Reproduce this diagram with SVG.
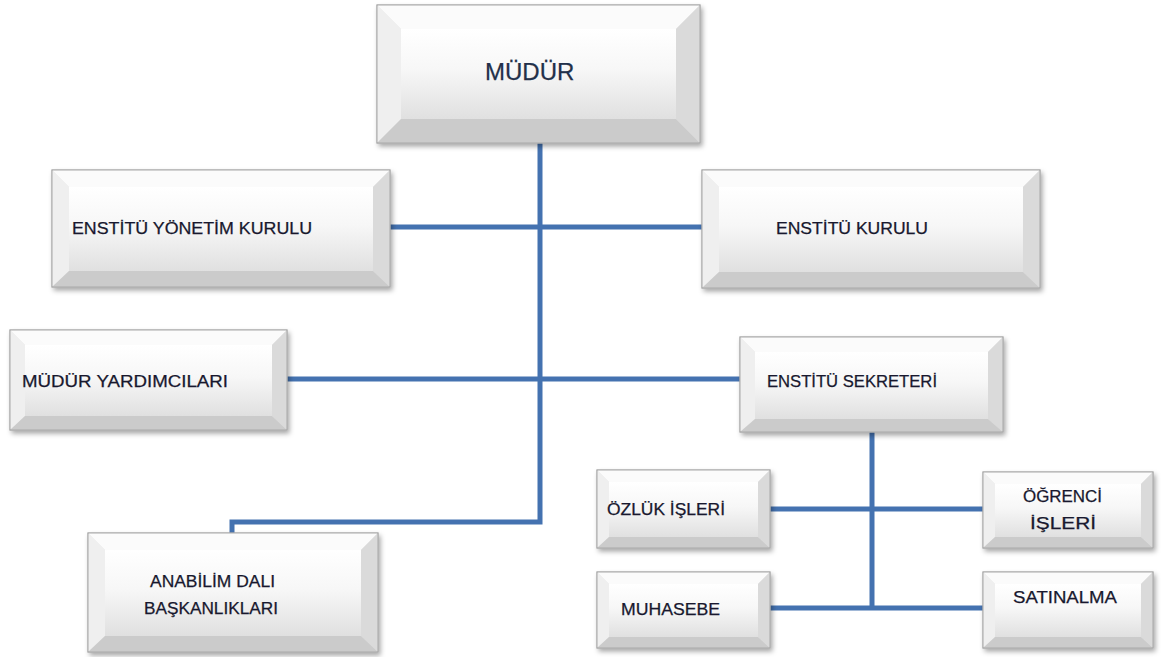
<svg xmlns="http://www.w3.org/2000/svg" width="1168" height="657" viewBox="0 0 1168 657">
<style>
.outer{fill:#e6e6e6;stroke:#a9a9a9;stroke-width:1}
.bt{fill:#fbfbfb}
.bl{fill:#efefef}
.br{fill:#dadada}
.bb{fill:#cbcbcb}
.face{fill:url(#faceG)}
.edge{fill:none;stroke:#a9a9a9;stroke-width:1}
.lbl{font-family:"Liberation Sans",Arial,sans-serif;font-size:16px;fill:#18182e;stroke:#18182e;stroke-width:0.25}
.big{font-size:24px;fill:#22304a;stroke:#22304a}
.conn{fill:none;stroke:#4472b0;stroke-width:5;stroke-linejoin:miter}
</style>
<defs>
<linearGradient id="faceG" x1="0" y1="0" x2="0" y2="1">
<stop offset="0" stop-color="#ffffff"/>
<stop offset="0.45" stop-color="#f7f7f7"/>
<stop offset="1" stop-color="#e0e0e0"/>
</linearGradient>
<filter id="sh" x="-10%" y="-10%" width="125%" height="135%">
<feDropShadow dx="2" dy="3" stdDeviation="2.5" flood-color="#000" flood-opacity="0.35"/>
</filter>
</defs>
<rect width="1168" height="657" fill="#ffffff"/>

<g id="connectors">
<path class="conn" d="M540,143 V522 H232 V533"/>
<path class="conn" d="M390,227 H702"/>
<path class="conn" d="M287,379 H740"/>
<path class="conn" d="M872,432 V608"/>
<path class="conn" d="M770,509 H983"/>
<path class="conn" d="M770,608 H983"/>
</g>

<g id="mudur">
<g filter="url(#sh)"><rect class="outer" x="377" y="5" width="323" height="138"/></g>
<polygon class="bt" points="377,5 700,5 676,29 401,29"/>
<polygon class="bl" points="377,5 401,29 401,119 377,143"/>
<polygon class="br" points="700,5 700,143 676,119 676,29"/>
<polygon class="bb" points="377,143 401,119 676,119 700,143"/>
<rect class="face" x="401" y="29" width="275" height="90"/>
<rect class="edge" x="377" y="5" width="323" height="138"/>
<text class="lbl big" x="485" y="80">MÜDÜR</text>
</g>

<g id="yonetim-kurulu">
<g filter="url(#sh)"><rect class="outer" x="52" y="170" width="338" height="117"/></g>
<polygon class="bt" points="52,170 390,170 373,187 69,187"/>
<polygon class="bl" points="52,170 69,187 69,271 52,287"/>
<polygon class="br" points="390,170 390,287 373,271 373,187"/>
<polygon class="bb" points="52,287 69,271 373,271 390,287"/>
<rect class="face" x="69" y="187" width="304" height="84"/>
<rect class="edge" x="52" y="170" width="338" height="117"/>
<text class="lbl" x="72" y="234" textLength="240" lengthAdjust="spacingAndGlyphs">ENSTİTÜ YÖNETİM  KURULU</text>
</g>

<g id="enstitu-kurulu">
<g filter="url(#sh)"><rect class="outer" x="702" y="170" width="338" height="118"/></g>
<polygon class="bt" points="702,170 1040,170 1023,187 719,187"/>
<polygon class="bl" points="702,170 719,187 719,272 702,288"/>
<polygon class="br" points="1040,170 1040,288 1023,272 1023,187"/>
<polygon class="bb" points="702,288 719,272 1023,272 1040,288"/>
<rect class="face" x="719" y="187" width="304" height="85"/>
<rect class="edge" x="702" y="170" width="338" height="118"/>
<text class="lbl" x="776" y="234" textLength="152" lengthAdjust="spacingAndGlyphs">ENSTİTÜ KURULU</text>
</g>

<g id="mudur-yardimcilari">
<g filter="url(#sh)"><rect class="outer" x="10" y="330" width="277" height="100"/></g>
<polygon class="bt" points="10,330 287,330 272,345 25,345"/>
<polygon class="bl" points="10,330 25,345 25,416 10,430"/>
<polygon class="br" points="287,330 287,430 272,416 272,345"/>
<polygon class="bb" points="10,430 25,416 272,416 287,430"/>
<rect class="face" x="25" y="345" width="247" height="71"/>
<rect class="edge" x="10" y="330" width="277" height="100"/>
<text class="lbl" x="22" y="387" textLength="206" lengthAdjust="spacingAndGlyphs">MÜDÜR YARDIMCILARI</text>
</g>

<g id="enstitu-sekreteri">
<g filter="url(#sh)"><rect class="outer" x="740" y="337" width="263" height="95"/></g>
<polygon class="bt" points="740,337 1003,337 988,352 755,352"/>
<polygon class="bl" points="740,337 755,352 755,419 740,432"/>
<polygon class="br" points="1003,337 1003,432 988,419 988,352"/>
<polygon class="bb" points="740,432 755,419 988,419 1003,432"/>
<rect class="face" x="755" y="352" width="233" height="67"/>
<rect class="edge" x="740" y="337" width="263" height="95"/>
<text class="lbl" x="767" y="387" textLength="170" lengthAdjust="spacingAndGlyphs">ENSTİTÜ SEKRETERİ</text>
</g>

<g id="ozluk-isleri">
<g filter="url(#sh)"><rect class="outer" x="597" y="470" width="173" height="78"/></g>
<polygon class="bt" points="597,470 770,470 758,482 609,482"/>
<polygon class="bl" points="597,470 609,482 609,537 597,548"/>
<polygon class="br" points="770,470 770,548 758,537 758,482"/>
<polygon class="bb" points="597,548 609,537 758,537 770,548"/>
<rect class="face" x="609" y="482" width="149" height="55"/>
<rect class="edge" x="597" y="470" width="173" height="78"/>
<text class="lbl" x="607" y="515" textLength="118" lengthAdjust="spacingAndGlyphs">ÖZLÜK İŞLERİ</text>
</g>

<g id="ogrenci-isleri">
<g filter="url(#sh)"><rect class="outer" x="983" y="472" width="170" height="76"/></g>
<polygon class="bt" points="983,472 1153,472 1141,484 995,484"/>
<polygon class="bl" points="983,472 995,484 995,537 983,548"/>
<polygon class="br" points="1153,472 1153,548 1141,537 1141,484"/>
<polygon class="bb" points="983,548 995,537 1141,537 1153,548"/>
<rect class="face" x="995" y="484" width="146" height="53"/>
<rect class="edge" x="983" y="472" width="170" height="76"/>
<text class="lbl" x="1023" y="502" textLength="79" lengthAdjust="spacingAndGlyphs">ÖĞRENCİ</text>
<text class="lbl" x="1030" y="529" textLength="66" lengthAdjust="spacingAndGlyphs">İŞLERİ</text>
</g>

<g id="muhasebe">
<g filter="url(#sh)"><rect class="outer" x="597" y="572" width="173" height="76"/></g>
<polygon class="bt" points="597,572 770,572 758,584 609,584"/>
<polygon class="bl" points="597,572 609,584 609,637 597,648"/>
<polygon class="br" points="770,572 770,648 758,637 758,584"/>
<polygon class="bb" points="597,648 609,637 758,637 770,648"/>
<rect class="face" x="609" y="584" width="149" height="53"/>
<rect class="edge" x="597" y="572" width="173" height="76"/>
<text class="lbl" x="621" y="615" textLength="99" lengthAdjust="spacingAndGlyphs">MUHASEBE</text>
</g>

<g id="satinalma">
<g filter="url(#sh)"><rect class="outer" x="983" y="572" width="170" height="76"/></g>
<polygon class="bt" points="983,572 1153,572 1141,584 995,584"/>
<polygon class="bl" points="983,572 995,584 995,637 983,648"/>
<polygon class="br" points="1153,572 1153,648 1141,637 1141,584"/>
<polygon class="bb" points="983,648 995,637 1141,637 1153,648"/>
<rect class="face" x="995" y="584" width="146" height="53"/>
<rect class="edge" x="983" y="572" width="170" height="76"/>
<text class="lbl" x="1013" y="603" textLength="104" lengthAdjust="spacingAndGlyphs">SATINALMA</text>
</g>

<g id="anabilim-dali">
<g filter="url(#sh)"><rect class="outer" x="88" y="533" width="290" height="119"/></g>
<polygon class="bt" points="88,533 378,533 361,550 105,550"/>
<polygon class="bl" points="88,533 105,550 105,636 88,652"/>
<polygon class="br" points="378,533 378,652 361,636 361,550"/>
<polygon class="bb" points="88,652 105,636 361,636 378,652"/>
<rect class="face" x="105" y="550" width="256" height="86"/>
<rect class="edge" x="88" y="533" width="290" height="119"/>
<text class="lbl" x="150" y="587" textLength="125" lengthAdjust="spacingAndGlyphs">ANABİLİM DALI</text>
<text class="lbl" x="144" y="614" textLength="134" lengthAdjust="spacingAndGlyphs">BAŞKANLIKLARI</text>
</g>
</svg>
